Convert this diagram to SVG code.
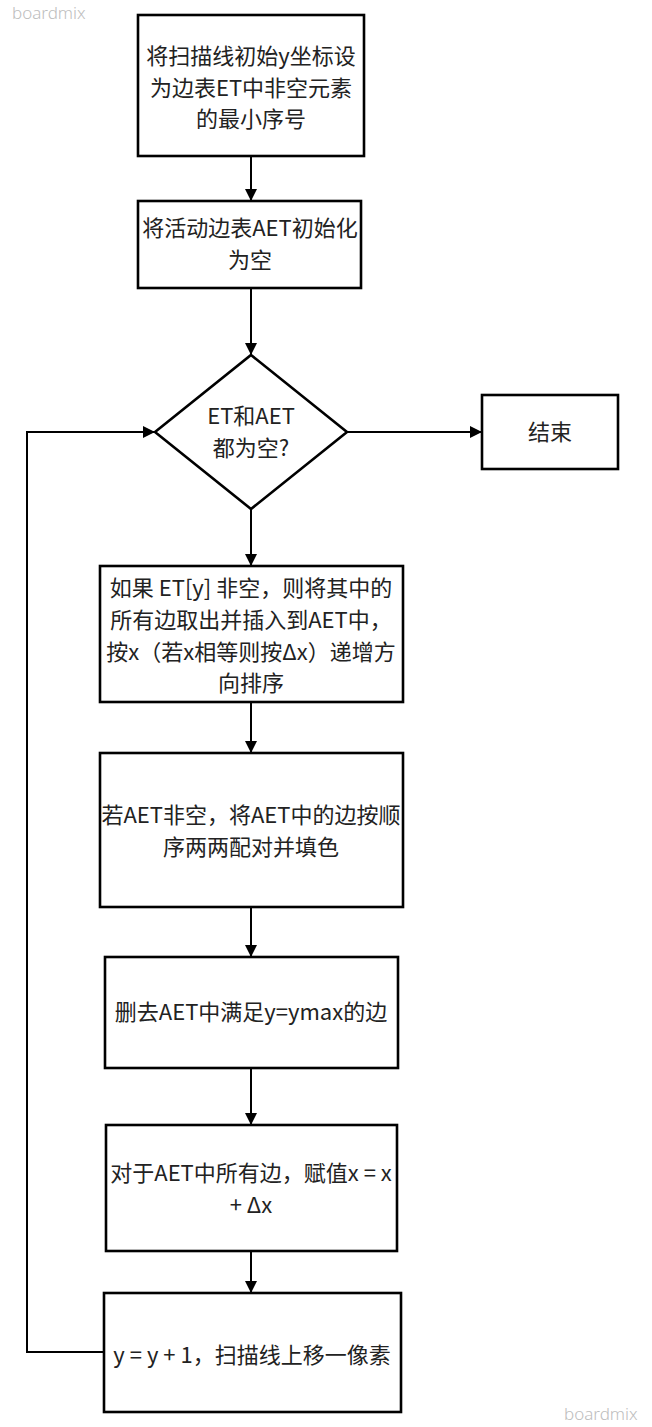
<svg xmlns="http://www.w3.org/2000/svg" width="652" height="1427" viewBox="0 0 652 1427">
  <defs>
    <marker id="arrow" markerUnits="userSpaceOnUse" markerWidth="12" markerHeight="12" refX="12" refY="6" orient="auto">
      <path d="M0,0 L12,6 L0,12 z" fill="#000"/>
    </marker>
  </defs>
  <style>
    .box { fill: #fff; stroke: #000; stroke-width: 2.6; }
    .lbl { font-family: "Noto Sans CJK SC", "Noto Sans", sans-serif; font-size: 22px; fill: #222; text-anchor: middle; }
    .edge { fill: none; stroke: #000; stroke-width: 2; }
    .wm { font-family: "Noto Sans", "Liberation Sans", sans-serif; font-size: 17px; fill: #bdbdbd; font-weight: 300; }
  </style>
  <rect width="652" height="1427" fill="#fff"/>

  <text class="wm" x="12" y="19">boardmix</text>
  <text class="wm" x="564" y="1420">boardmix</text>

  <!-- connectors -->
  <g id="connectors">
    <path class="edge" d="M251,156 V201" marker-end="url(#arrow)"/>
    <path class="edge" d="M251,288 V355" marker-end="url(#arrow)"/>
    <path class="edge" d="M347,432 H482" marker-end="url(#arrow)"/>
    <path class="edge" d="M251,509 V566" marker-end="url(#arrow)"/>
    <path class="edge" d="M251,702 V753" marker-end="url(#arrow)"/>
    <path class="edge" d="M251,907 V957" marker-end="url(#arrow)"/>
    <path class="edge" d="M251,1068 V1125" marker-end="url(#arrow)"/>
    <path class="edge" d="M251,1251 V1293" marker-end="url(#arrow)"/>
    <path class="edge" d="M104,1352 H27 V432 H155" marker-end="url(#arrow)"/>
  </g>

  <g id="init-y">
    <rect class="box" x="138" y="15" width="226" height="141"/>
    <text class="lbl" x="251" y="64">将扫描线初始y坐标设</text>
    <text class="lbl" x="251" y="96">为边表ET中非空元素</text>
    <text class="lbl" x="251" y="127">的最小序号</text>
  </g>

  <g id="init-aet">
    <rect class="box" x="138" y="201" width="223" height="87"/>
    <text class="lbl" x="250" y="236">将活动边表AET初始化</text>
    <text class="lbl" x="250" y="268">为空</text>
  </g>

  <g id="check-empty">
    <polygon class="box" points="251,355 347,432 251,509 155,432"/>
    <text class="lbl" x="251" y="424">ET和AET</text>
    <text class="lbl" x="251" y="456">都为空?</text>
  </g>

  <g id="end">
    <rect class="box" x="482" y="395" width="136" height="74"/>
    <text class="lbl" x="550" y="440">结束</text>
  </g>

  <g id="insert-edges">
    <rect class="box" x="100" y="566" width="303" height="136"/>
    <text class="lbl" x="251" y="596">如果 ET[y] 非空，则将其中的</text>
    <text class="lbl" x="251" y="628">所有边取出并插入到AET中，</text>
    <text class="lbl" x="251" y="660">按x（若x相等则按Δx）递增方</text>
    <text class="lbl" x="251" y="691">向排序</text>
  </g>

  <g id="fill-pairs">
    <rect class="box" x="100" y="753" width="303" height="154"/>
    <text class="lbl" x="251" y="823">若AET非空，将AET中的边按顺</text>
    <text class="lbl" x="251" y="855">序两两配对并填色</text>
  </g>

  <g id="remove-edges">
    <rect class="box" x="105" y="957" width="293" height="111"/>
    <text class="lbl" x="251" y="1020">删去AET中满足y=ymax的边</text>
  </g>

  <g id="update-x">
    <rect class="box" x="106" y="1125" width="291" height="126"/>
    <text class="lbl" x="251" y="1181">对于AET中所有边，赋值x = x</text>
    <text class="lbl" x="251" y="1213">+ Δx</text>
  </g>

  <g id="next-line">
    <rect class="box" x="104" y="1293" width="297" height="119"/>
    <text class="lbl" x="252" y="1363">y = y + 1，扫描线上移一像素</text>
  </g>
</svg>
